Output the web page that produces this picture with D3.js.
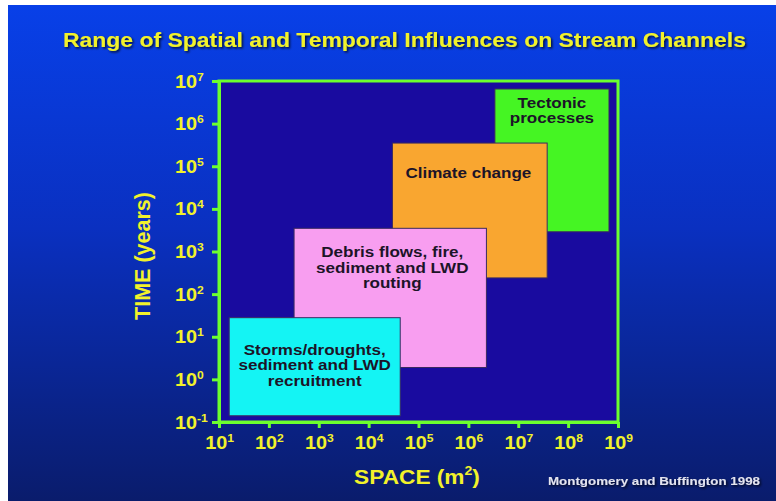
<!DOCTYPE html>
<html>
<head>
<meta charset="utf-8">
<script src="https://cdn.jsdelivr.net/npm/d3@7"></script>
<style>
  html, body { margin: 0; padding: 0; background: #ffffff; }
  svg { display: block; }
  text { font-family: "Liberation Sans", Arial, sans-serif; font-weight: bold; }
</style>
</head>
<body>
<svg id="chart" width="776" height="501"></svg>
<script>
// ---------------- DATA ----------------
const title = "Range of Spatial and Temporal Influences on Stream Channels";
const xAxisTitle = "SPACE (m";
const yAxisTitle = "TIME (years)";
const credit = "Montgomery and Buffington 1998";

// processes, drawn back to front
const processNames = ["Tectonic processes", "Climate change", "Debris flows, fire, sediment and LWD routing", "Storms/droughts, sediment and LWD recruitment"];
const processLines = [
  ["Tectonic", "processes"],
  ["Climate change"],
  ["Debris flows, fire,", "sediment and LWD", "routing"],
  ["Storms/droughts,", "sediment and LWD", "recruitment"]
];
// spatial extent (m^2)
const spaceMin = [3.4e6, 3.0e4, 3.2e2, 1.6e1];
const spaceMax = [6.6e8, 3.8e7, 2.3e6, 4.3e4];
// temporal extent (years)
const timeMin = [2.9e3, 2.4e2, 1.9e0, 1.4e-1];
const timeMax = [6.5e6, 3.5e5, 3.5e3, 2.8e1];

const xTickExponents = [1, 2, 3, 4, 5, 6, 7, 8, 9];
const yTickExponents = [-1, 0, 1, 2, 3, 4, 5, 6, 7];

// ---------------- STYLE ----------------
const boxColors = ["#45f523", "#f9a630", "#f89ef0", "#14f4f4"];
// label layout inside each box: anchor, dx from box (left or centre), dy from box top
const boxLabelLayout = [
  { anchor: "middle", dx: 0, dy: 19 },
  { anchor: "start", dx: 13, dy: 35 },
  { anchor: "middle", dx: 2, dy: 29 },
  { anchor: "middle", dx: 0, dy: 37 }
];
const SX = 1.1;
const axisGreen = "#6cff2e";
const yellow = "#f2f22a";

const svg = d3.select("#chart");
const defs = svg.append("defs");
const grad = defs.append("linearGradient").attr("id", "bg").attr("x1", 0).attr("y1", 0).attr("x2", 0).attr("y2", 1);
grad.append("stop").attr("offset", "0%").attr("stop-color", "#0840e8");
grad.append("stop").attr("offset", "45%").attr("stop-color", "#0a30c0");
grad.append("stop").attr("offset", "100%").attr("stop-color", "#0a1c6c");
const f = defs.append("filter").attr("id", "shadow").attr("x", "-5%").attr("y", "-30%").attr("width", "110%").attr("height", "160%");
f.append("feDropShadow").attr("dx", 1.5).attr("dy", 1.5).attr("stdDeviation", 0.8).attr("flood-color", "#000").attr("flood-opacity", 0.75);

svg.append("rect").attr("x", 8).attr("y", 5).attr("width", 768).attr("height", 496).attr("fill", "url(#bg)");

// ---------------- SCALES ----------------
const x = d3.scaleLog().domain([1e1, 1e9]).range([219, 618]);
const y = d3.scaleLog().domain([1e-1, 1e7]).range([422, 81]);

// plot area
svg.append("rect")
  .attr("x", x.range()[0]).attr("y", y.range()[1])
  .attr("width", x.range()[1] - x.range()[0])
  .attr("height", y.range()[0] - y.range()[1])
  .attr("fill", "#190b9f")
  .attr("stroke", axisGreen).attr("stroke-width", 3);

// boxes
const data = processNames.map((n, i) => ({
  name: n, lines: processLines[i],
  x0: spaceMin[i], x1: spaceMax[i], y0: timeMin[i], y1: timeMax[i],
  color: boxColors[i], layout: boxLabelLayout[i]
}));

const boxes = svg.append("g").selectAll("g").data(data).join("g");
boxes.append("rect")
  .attr("x", d => x(d.x0))
  .attr("y", d => y(d.y1))
  .attr("width", d => x(d.x1) - x(d.x0))
  .attr("height", d => y(d.y0) - y(d.y1))
  .attr("fill", d => d.color)
  .attr("stroke", "#3b2a60").attr("stroke-width", 1);

boxes.each(function(d) {
  const g = d3.select(this);
  const bx = d.layout.anchor === "middle" ? (x(d.x0) + x(d.x1)) / 2 + d.layout.dx : x(d.x0) + d.layout.dx;
  d.lines.forEach((ln, k) => {
    g.append("text")
      .attr("transform", `translate(${bx},${y(d.y1) + d.layout.dy + k * 15.5}) scale(${SX},1)`)
      .attr("text-anchor", d.layout.anchor)
      .attr("font-size", 15.5)
      .attr("fill", "#1c1428")
      .text(ln);
  });
});

// ---------------- AXES ----------------
const xAxis = d3.axisBottom(x).tickValues(xTickExponents.map(e => Math.pow(10, e)))
  .tickSize(6).tickSizeOuter(0).tickFormat(() => "");
const gx = svg.append("g").attr("transform", `translate(0,${y.range()[0]})`).call(xAxis);
const yAxis = d3.axisLeft(y).tickValues(yTickExponents.map(e => Math.pow(10, e)))
  .tickSize(7).tickSizeOuter(0).tickFormat(() => "");
const gy = svg.append("g").attr("transform", `translate(${x.range()[0]},0)`).call(yAxis);

[gx, gy].forEach(g => {
  g.select(".domain").attr("stroke", axisGreen).attr("stroke-width", 3);
  g.selectAll(".tick line").attr("stroke", axisGreen).attr("stroke-width", 3);
  g.selectAll(".tick text").remove();
});

gx.selectAll(".tick").each(function(d, i) {
  const t = d3.select(this).append("text")
    .attr("transform", `translate(0,27) scale(${SX},1)`)
    .attr("text-anchor", "middle").attr("fill", yellow).attr("font-size", 18);
  t.append("tspan").text("10");
  t.append("tspan").attr("font-size", 11).attr("dy", -7).text(xTickExponents[i]);
});
gy.selectAll(".tick").each(function(d, i) {
  const t = d3.select(this).append("text")
    .attr("transform", `translate(-44,6) scale(${SX},1)`)
    .attr("text-anchor", "start").attr("fill", yellow).attr("font-size", 18);
  t.append("tspan").text("10");
  t.append("tspan").attr("font-size", 11).attr("dy", -7).text(yTickExponents[i]);
});

// ---------------- TEXTS ----------------
svg.append("text")
  .attr("x", 63).attr("y", 47)
  .attr("font-size", 20.5).attr("fill", yellow)
  .attr("textLength", 683).attr("lengthAdjust", "spacingAndGlyphs")
  .attr("filter", "url(#shadow)")
  .text(title);

const xt = svg.append("text")
  .attr("transform", `translate(417,484) scale(1.08,1)`)
  .attr("text-anchor", "middle").attr("font-size", 21).attr("fill", yellow);
xt.append("tspan").text(xAxisTitle);
xt.append("tspan").attr("font-size", 13).attr("dy", -9).text("2");
xt.append("tspan").attr("dy", 9).text(")");

svg.append("text")
  .attr("transform", `translate(150,256) rotate(-90)`)
  .attr("text-anchor", "middle").attr("font-size", 21.5).attr("fill", yellow)
  .text(yAxisTitle);

svg.append("text")
  .attr("x", 548).attr("y", 485)
  .attr("font-size", 11).attr("fill", "#e4e4ee")
  .attr("textLength", 212).attr("lengthAdjust", "spacingAndGlyphs")
  .attr("filter", "url(#shadow)")
  .text(credit);
</script>
</body>
</html>
